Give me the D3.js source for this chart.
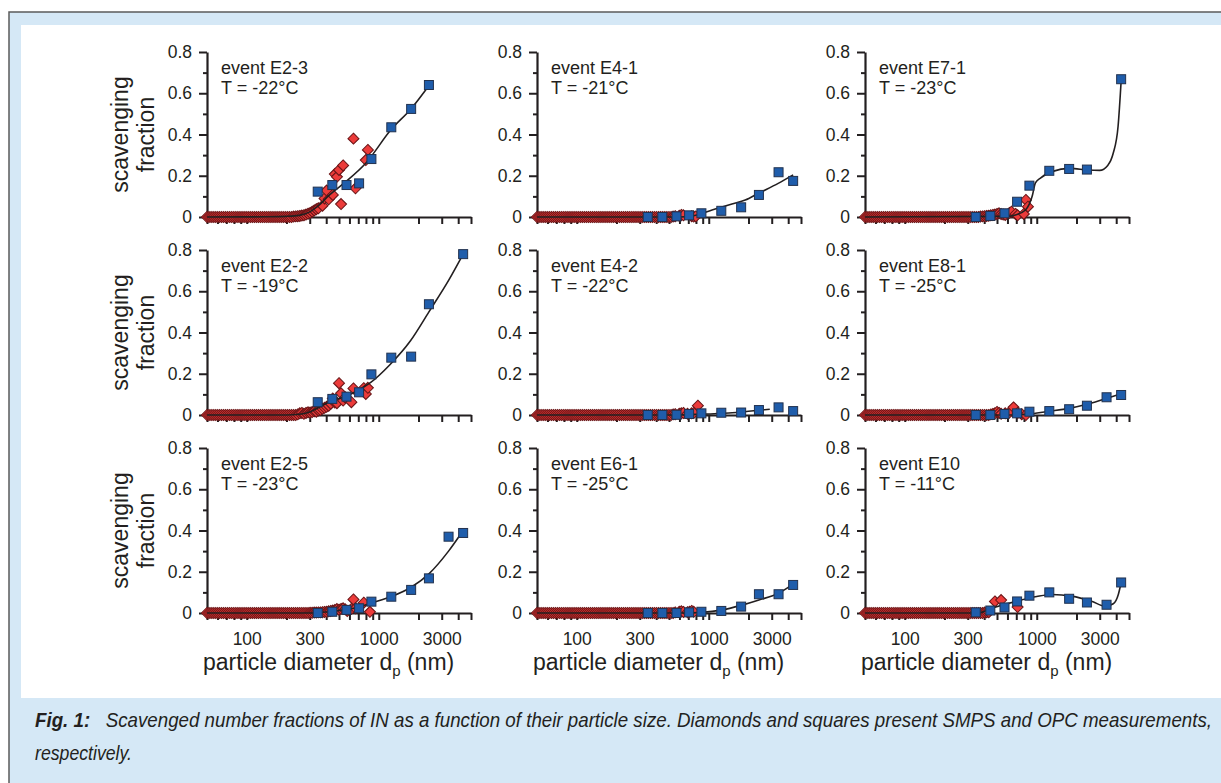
<!DOCTYPE html>
<html>
<head>
<meta charset="utf-8">
<script src="https://cdn.jsdelivr.net/npm/d3@7"></script>
<style>
  html, body { margin: 0; padding: 0; background: #fff; }
  svg { display: block; }
</style>
</head>
<body>
<svg id="chart" width="1221" height="783"></svg>
<script>
// ---- data -------------------------------------------------------------
const events = ["E2-3", "E4-1", "E7-1", "E2-2", "E4-2", "E8-1", "E2-5", "E6-1", "E10"];
const temperatures = ["-22", "-21", "-23", "-19", "-22", "-25", "-23", "-25", "-11"];

// SMPS channel mid-point diameters (nm), 64 channels per decade
const smpsDiameters = [
  50.00, 51.83, 53.73, 55.70, 57.74, 59.85, 62.05, 64.32, 66.68, 69.12,
  71.65, 74.28, 77.00, 79.82, 82.74, 85.77, 88.91, 92.17, 95.55, 99.05,
  102.68, 106.44, 110.34, 114.38, 118.57, 122.91, 127.41, 132.08, 136.92, 141.93,
  147.13, 152.52, 158.11, 163.90, 169.90, 176.13, 182.58, 189.27, 196.20, 203.39,
  210.84, 218.56, 226.57, 234.87, 243.47, 252.39, 261.63, 271.22, 281.15, 291.45,
  302.13, 313.19, 324.67, 336.56, 348.89, 361.67, 374.91, 388.65, 402.88, 417.64,
  432.94, 448.80, 465.24, 482.28, 500.00, 518.30, 537.30, 557.00, 577.40, 598.50,
  620.50, 643.20, 666.80, 691.20, 716.50, 742.80, 770.00, 798.20, 827.40, 857.70,
  889.10
];
// OPC channel diameters (nm)
const opcDiameters = [345, 445, 570, 710, 880, 1245, 1760, 2400, 3380, 4360];

// scavenged fractions, SMPS (diamonds), one entry per SMPS channel
const smpsE2_3 = [
  0, 0, 0, 0, 0, 0, 0, 0, 0, 0,
  0, 0, 0, 0, 0, 0, 0, 0, 0, 0,
  0, 0, 0, 0, 0, 0, 0, 0, 0, 0,
  0, 0, 0, 0, 0, 0, 0, 0, 0, 0,
  0, 0, 0.002, 0.003, 0.004, 0.005, 0.007, 0.009, 0.012, 0.016,
  0.02, 0.026, 0.032, 0.038, 0.042, null, 0.055, 0.09, 0.128, 0.086,
  null, 0.107, 0.208, 0.195, 0.228, 0.063, 0.25, null, null, null,
  null, 0.38, 0.139, null, null, null, null, 0.276, 0.325, null,
  null
];
const smpsE4_1 = [
  0, 0, 0, 0, 0, 0, 0, 0, 0, 0,
  0, 0, 0, 0, 0, 0, 0, 0, 0, 0,
  0, 0, 0, 0, 0, 0, 0, 0, 0, 0,
  0, 0, 0, 0, 0, 0, 0, 0, 0, 0,
  0, 0, 0, 0, 0, 0, 0, 0, 0, 0,
  0, 0, 0, 0, 0, 0, 0, 0, 0, 0,
  0, 0, 0, 0, 0, 0, 0.002, 0.004, null, 0.006,
  0.01, 0.008, null, null, null, 0.004, 0.002, 0.003, null, null,
  null
];
const smpsE7_1 = [
  0, 0, 0, 0, 0, 0, 0, 0, 0, 0,
  0, 0, 0, 0, 0, 0, 0, 0, 0, 0,
  0, 0, 0, 0, 0, 0, 0, 0, 0, 0,
  0, 0, 0, 0, 0, 0, 0, 0, 0, 0,
  0, 0, 0, 0, 0, 0, 0, 0, 0, 0,
  0, 0, 0, 0, 0, 0, 0.002, 0.003, 0.004, 0.005,
  0.006, 0.008, 0.01, 0.012, 0.015, 0.018, 0.014, 0.012, 0.01, null,
  0.02, 0.026, null, 0.015, 0.008, null, null, 0.015, 0.083, 0.05,
  null
];
const smpsE2_2 = [
  0, 0, 0, 0, 0, 0, 0, 0, 0, 0,
  0, 0, 0, 0, 0, 0, 0, 0, 0, 0,
  0, 0, 0, 0, 0, 0, 0, 0, 0, 0,
  0, 0, 0, 0, 0, 0, 0, 0, 0, 0,
  0, 0, 0, 0, 0.003, 0.008, 0.01, 0.006, 0.01, 0.013,
  0.012, 0.014, 0.018, 0.016, 0.022, 0.024, 0.03, 0.035, 0.04, 0.045,
  0.055, 0.08, 0.06, 0.057, 0.154, 0.105, 0.07, 0.085, null, null,
  0.062, 0.129, null, null, null, null, 0.13, 0.102, 0.132, null,
  null
];
const smpsE4_2 = [
  0, 0, 0, 0, 0, 0, 0, 0, 0, 0,
  0, 0, 0, 0, 0, 0, 0, 0, 0, 0,
  0, 0, 0, 0, 0, 0, 0, 0, 0, 0,
  0, 0, 0, 0, 0, 0, 0, 0, 0, 0,
  0, 0, 0, 0, 0, 0, 0, 0, 0, 0,
  0, 0, 0, 0, 0, 0, 0, 0, 0, 0,
  0, 0, 0, 0, 0, 0, 0.003, 0.004, null, 0.006,
  0.008, 0.01, null, 0.006, null, 0.008, 0.01, null, 0.045, null,
  null
];
const smpsE8_1 = [
  0, 0, 0, 0, 0, 0, 0, 0, 0, 0,
  0, 0, 0, 0, 0, 0, 0, 0, 0, 0,
  0, 0, 0, 0, 0, 0, 0, 0, 0, 0,
  0, 0, 0, 0, 0, 0, 0, 0, 0, 0,
  0, 0, 0, 0, 0, 0, 0, 0, 0, 0,
  0, 0, 0, 0, 0, 0, 0, 0, 0, 0,
  0, 0.003, 0.005, 0.008, 0.015, 0.01, 0.006, null, 0.008, null,
  0.012, null, 0.037, null, 0.01, null, 0.004, null, 0, null,
  null
];
const smpsE2_5 = [
  0, 0, 0, 0, 0, 0, 0, 0, 0, 0,
  0, 0, 0, 0, 0, 0, 0, 0, 0, 0,
  0, 0, 0, 0, 0, 0, 0, 0, 0, 0,
  0, 0, 0, 0, 0, 0, 0, 0, 0, 0,
  0, 0, 0, 0, 0, 0, 0, 0, 0, 0,
  0.001, 0.001, 0.002, 0.002, 0.003, 0.003, 0.004, 0.005, 0.006, 0.008,
  0.01, 0.012, 0.014, 0.019, 0.016, 0.02, 0.023, 0.018, 0.01, null,
  0.02, 0.066, 0.023, null, null, null, 0.05, null, null, 0.006,
  null
];
const smpsE6_1 = [
  0, 0, 0, 0, 0, 0, 0, 0, 0, 0,
  0, 0, 0, 0, 0, 0, 0, 0, 0, 0,
  0, 0, 0, 0, 0, 0, 0, 0, 0, 0,
  0, 0, 0, 0, 0, 0, 0, 0, 0, 0,
  0, 0, 0, 0, 0, 0, 0, 0, 0, 0,
  0, 0, 0, 0, 0, 0, 0, 0, 0, 0,
  0, 0, 0, 0, 0, 0, 0, 0.003, null, 0.006,
  0.008, 0.005, null, 0.004, 0.006, 0.01, 0.006, null, null, null,
  null
];
const smpsE10 = [
  0, 0, 0, 0, 0, 0, 0, 0, 0, 0,
  0, 0, 0, 0, 0, 0, 0, 0, 0, 0,
  0, 0, 0, 0, 0, 0, 0, 0, 0, 0,
  0, 0, 0, 0, 0, 0, 0, 0, 0, 0,
  0, 0, 0, 0, 0, 0, 0, 0, 0, 0,
  0, 0, 0, 0, 0, 0, 0, 0, 0.002, 0.003,
  0.004, null, null, 0.056, null, null, 0.063, null, null, null,
  null, null, null, null, 0.029, null, null, null, null, null,
  null
];

// scavenged fractions, OPC (squares), one entry per OPC channel
const opcE2_3 = [0.123, 0.155, 0.155, 0.163, 0.281, 0.435, 0.524, 0.64, null, null];
const opcE4_1 = [0, 0, 0.003, 0.008, 0.018, 0.03, 0.047, 0.107, 0.217, 0.175];
const opcE7_1 = [0, 0.005, 0.018, 0.074, 0.152, 0.224, 0.233, 0.23, null, 0.668];
const opcE2_2 = [0.062, 0.078, 0.089, 0.11, 0.197, 0.278, 0.283, 0.537, null, 0.78];
const opcE4_2 = [0, 0, 0.001, 0.005, 0.008, 0.011, 0.012, 0.024, 0.037, 0.019];
const opcE8_1 = [0, 0, 0.005, 0.008, 0.016, 0.019, 0.028, 0.045, 0.086, 0.097];
const opcE2_5 = [0, 0.006, 0.015, 0.023, 0.055, 0.079, 0.112, 0.168, 0.37, 0.388];
const opcE6_1 = [0, 0, 0, 0.003, 0.006, 0.01, 0.031, 0.091, 0.091, 0.136];
const opcE10 = [0.003, 0.012, 0.027, 0.056, 0.084, 0.1, 0.069, 0.051, 0.04, 0.148];

// fitted curves: [diameter (nm), fraction]
const fitE2_3 = [[50, 0], [150, 0.001], [200, 0.003], [250, 0.008], [300, 0.025], [350, 0.055],
  [420, 0.105], [560, 0.17], [800, 0.262], [1245, 0.425], [1760, 0.525], [2420, 0.64]];
const fitE4_1 = [[50, 0], [600, 0], [750, 0.005], [1060, 0.034], [1500, 0.063], [1890, 0.082],
  [2380, 0.115], [3360, 0.163], [4360, 0.204]];
const fitE7_1 = [[50, 0], [600, 0.003], [690, 0.01], [822, 0.034], [922, 0.099], [977, 0.165],
  [1073, 0.19], [1303, 0.22], [1789, 0.236], [2427, 0.228], [3000, 0.226], [3450, 0.25],
  [3800, 0.31], [4133, 0.44], [4360, 0.66]];
const fitE2_2 = [[50, 0], [200, 0], [260, 0.005], [300, 0.015], [370, 0.045], [450, 0.07],
  [560, 0.09], [700, 0.12], [870, 0.158], [1220, 0.245], [1740, 0.36], [2400, 0.5],
  [3400, 0.655], [4360, 0.78]];
const fitE4_2 = [[50, 0], [570, 0], [800, 0.003], [1420, 0.01], [2000, 0.018], [2900, 0.028]];
const fitE8_1 = [[50, 0], [550, 0], [820, 0.003], [1245, 0.018], [1760, 0.032], [2400, 0.052],
  [3380, 0.08], [4360, 0.103]];
const fitE2_5 = [[50, 0], [300, 0], [400, 0.005], [500, 0.012], [700, 0.028], [900, 0.05],
  [1245, 0.08], [1760, 0.125], [2400, 0.19], [3380, 0.3], [4360, 0.4]];
const fitE6_1 = [[50, 0], [650, 0], [890, 0.003], [1245, 0.014], [1760, 0.037], [2400, 0.063],
  [3380, 0.096], [4360, 0.14]];
const fitE10 = [[50, 0], [356, 0], [461, 0.024], [732, 0.06], [1000, 0.08], [1303, 0.09],
  [1841, 0.082], [2600, 0.057], [3300, 0.033], [3800, 0.045], [4150, 0.09], [4360, 0.148]];

// axis ticks
const xTicks = [50, 60, 70, 80, 90, 100, 200, 300, 400, 500, 600, 700, 800, 900,
  1000, 2000, 3000, 4000, 5000];
const xTickLabels = [100, 300, 1000, 3000];
const yTicks = [0, 0.1, 0.2, 0.3, 0.4, 0.5, 0.6, 0.7, 0.8];
const yTickLabels = [0, 0.2, 0.4, 0.6, 0.8];

const smpsSeries = [smpsE2_3, smpsE4_1, smpsE7_1, smpsE2_2, smpsE4_2, smpsE8_1, smpsE2_5, smpsE6_1, smpsE10];
const opcSeries = [opcE2_3, opcE4_1, opcE7_1, opcE2_2, opcE4_2, opcE8_1, opcE2_5, opcE6_1, opcE10];
const fitSeries = [fitE2_3, fitE4_1, fitE7_1, fitE2_2, fitE4_2, fitE8_1, fitE2_5, fitE6_1, fitE10];

// ---- layout -----------------------------------------------------------
const INK = "#231f20";
const FONT = "'Liberation Sans', Arial, Helvetica, sans-serif";
const colLeft = [207, 537, 865];
const rowTop = [52, 250, 448];
const plotW = 264, plotH = 165;

const svg = d3.select("#chart");

// page frame
svg.append("rect").attr("width", 1221).attr("height", 783).attr("fill", "#fff");
svg.append("rect").attr("x", 9).attr("y", 12).attr("width", 1240).attr("height", 800)
  .attr("fill", "#d5e8f6").attr("stroke", "#5b5b5b").attr("stroke-width", 1.5);
svg.append("rect").attr("x", 21).attr("y", 25).attr("width", 1220).attr("height", 673)
  .attr("fill", "#fff");

const diamondPath = "M0,-5.5L5.5,0L0,5.5L-5.5,0Z";
const isLabelled = (list, d) => list.some(v => Math.abs(v - d) < 1e-9);

events.forEach((ev, i) => {
  const col = i % 3, row = Math.floor(i / 3);
  const x0 = colLeft[col], y0 = rowTop[row];
  const x = d3.scaleLog().domain([50, 5000]).range([x0, x0 + plotW]);
  const y = d3.scaleLinear().domain([0, 0.8]).range([y0 + plotH, y0]);
  const g = svg.append("g");

  // x axis
  const xa = g.append("g").attr("transform", `translate(0,${y0 + plotH})`)
    .call(d3.axisBottom(x).tickValues(xTicks).tickSize(7).tickSizeOuter(0).tickPadding(13)
      .tickFormat(d => String(d)));
  xa.selectAll(".tick").filter(d => row !== 2 || !isLabelled(xTickLabels, d)).select("text").remove();

  // y axis
  const ya = g.append("g").attr("transform", `translate(${x0},0)`)
    .call(d3.axisLeft(y).tickValues(yTicks).tickSize(8).tickSizeOuter(0).tickPadding(7)
      .tickFormat(d => d === 0 ? "0" : d3.format(".1f")(d)));
  const minorY = ya.selectAll(".tick").filter(d => !isLabelled(yTickLabels, d));
  minorY.select("line").attr("x2", -4);
  minorY.select("text").remove();

  [xa, ya].forEach(a => {
    a.select(".domain").attr("stroke", INK).attr("stroke-width", 2.2);
    a.selectAll(".tick line").attr("stroke", INK).attr("stroke-width", 2);
    a.selectAll(".tick text").attr("fill", INK).attr("font-family", FONT).attr("font-size", 17.5);
  });

  // SMPS diamonds
  const smps = smpsDiameters.map((d, k) => ({ d, v: smpsSeries[i][k] })).filter(p => p.v !== null);
  g.append("g").selectAll("path").data(smps).join("path")
    .attr("d", diamondPath)
    .attr("transform", p => `translate(${x(p.d)},${y(p.v)})`)
    .attr("fill", "#ec3b3a").attr("stroke", "#6a1517").attr("stroke-width", 1.05);

  // fitted curve
  g.append("path").datum(fitSeries[i])
    .attr("d", d3.line().x(p => x(p[0])).y(p => y(p[1])).curve(d3.curveMonotoneX))
    .attr("fill", "none").attr("stroke", INK).attr("stroke-width", 1.6);

  // OPC squares
  const opc = opcDiameters.map((d, k) => ({ d, v: opcSeries[i][k] })).filter(p => p.v !== null);
  g.append("g").selectAll("rect").data(opc).join("rect")
    .attr("x", p => x(p.d) - 4.5).attr("y", p => y(p.v) - 4.5)
    .attr("width", 9).attr("height", 9)
    .attr("fill", "#1f5dab").attr("stroke", "#22324f").attr("stroke-width", 1);

  // event label
  const lab = g.append("text").attr("font-family", FONT).attr("font-size", 18).attr("fill", INK);
  lab.append("tspan").attr("x", x0 + 14).attr("y", y0 + 22).text(`event ${ev}`);
  lab.append("tspan").attr("x", x0 + 14).attr("y", y0 + 42).text(`T = ${temperatures[i]}°C`);

  // y title on the left column
  if (col === 0) {
    const cy = y0 + plotH / 2;
    const t = g.append("text").attr("transform", `translate(128,${cy}) rotate(-90)`)
      .attr("text-anchor", "middle").attr("font-family", FONT).attr("font-size", 23).attr("fill", INK);
    t.append("tspan").attr("x", 0).attr("y", 0).text("scavenging");
    t.append("tspan").attr("x", 0).attr("y", 26).text("fraction");
  }

  // x title on the bottom row
  if (row === 2) {
    const t = g.append("text").attr("x", x0 - 4).attr("y", 670)
      .attr("font-family", FONT).attr("font-size", 23).attr("fill", INK);
    t.append("tspan").text("particle diameter d");
    t.append("tspan").attr("font-size", 15).attr("dy", 6).text("p");
    t.append("tspan").attr("dy", -6).text(" (nm)");
  }
});

// caption (condensed italic, stretched vertically)
const CAP_FONT = "'Liberation Sans Narrow', 'Liberation Sans', Arial, sans-serif";
const cap1 = svg.append("text").attr("transform", "translate(35,727) scale(1,1.12)")
  .attr("font-family", CAP_FONT).attr("font-style", "italic").attr("font-size", 17.5).attr("fill", INK)
  .attr("textLength", 1177).attr("lengthAdjust", "spacingAndGlyphs");
cap1.append("tspan").attr("font-weight", "bold").text("Fig. 1:");
cap1.append("tspan").text("\u00a0\u00a0 Scavenged number fractions of IN as a function of their particle size. Diamonds and squares present SMPS and OPC measurements,");
svg.append("text").attr("transform", "translate(35,760) scale(1,1.12)")
  .attr("font-family", CAP_FONT).attr("font-style", "italic").attr("font-size", 17.5).attr("fill", INK)
  .attr("textLength", 97).attr("lengthAdjust", "spacingAndGlyphs")
  .text("respectively.");
</script>
</body>
</html>
